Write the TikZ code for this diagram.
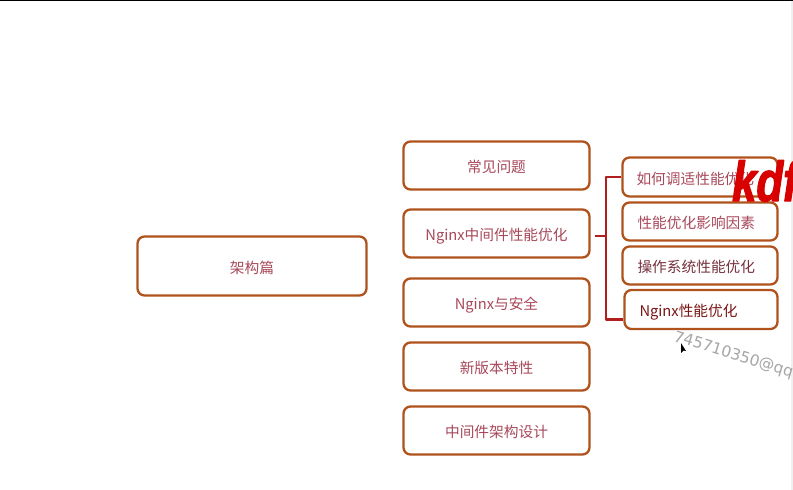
\documentclass[tikz,border=0pt]{standalone}
\usepackage{fontspec}
\setmainfont{Noto Sans CJK SC}
\newfontfamily\markfont[FakeBold=2.5]{Liberation Sans}
\newfontfamily\qqfont{DejaVu Sans}
\definecolor{boxline}{HTML}{B0521C}
\definecolor{linkred}{HTML}{B01E1E}
\definecolor{boxtext}{HTML}{A8485A}
\tikzset{
	mapbox/.style={draw=boxline, line width=2.3pt, rounded corners=7pt, fill=white, inner sep=0pt, text=boxtext, text height=14.2pt, text depth=0pt, font=\fontsize{14.7}{16}\selectfont},
	link/.style={draw=linkred, line width=2.3pt},
}
\begin{document}
\begin{tikzpicture}[x=1pt, y=-1pt, line join=round]
	\useasboundingbox (0,0) rectangle (793,490);
	\clip (0,0) rectangle (793,490);
	\fill[white] (0,0) rectangle (793,490);
	\fill[black] (0,0) rectangle (793,1.2);
	\fill[gray!12] (790.5,1.2) rectangle (793,490);
	% left box
	\node[mapbox, minimum width=229pt, minimum height=59pt] (arch) at (252,266) {架构篇};
	% middle column
	\foreach \name/\y/\txt in {faq/165.5/常见问题, nginxopt/233.5/Nginx中间件性能优化, safe/302.5/Nginx与安全, newver/366.5/新版本特性, design/430.5/中间件架构设计}
		\node[mapbox, minimum width=186pt, minimum height=48pt] (\name) at (496.5,\y) {\txt};
	% right column
	\node[mapbox, minimum width=155pt, minimum height=39pt, text width=127pt] (tune) at (700,177) {如何调适性能优化};
	\node[mapbox, minimum width=155pt, minimum height=38pt, text width=125pt] (factor) at (700,221.5) {性能优化影响因素};
	\node[mapbox, minimum width=155pt, minimum height=38pt, text width=125pt, text=boxtext!70!black] (osopt) at (700,265.5) {操作系统性能优化};
	\node[mapbox, minimum width=153pt, minimum height=39pt, text width=123pt, text=linkred!70!black] (ngxperf) at (701,309.5) {Nginx性能优化};
	% connectors
	\coordinate (trunk) at (606,236);
	\coordinate (low) at (ngxperf.west |- 0,319.5);
	\draw[link, shorten <=4pt] (nginxopt.east |- trunk) -- (trunk);
	\draw[link] (tune.west) -| (trunk) |- (low);
	% screen marks
	\node[inner sep=0pt, anchor=base west, xscale=.78, text=red!85!black, font=\markfont\bfseries\itshape\fontsize{56}{56}\selectfont] (mark) at (732,201) {kdf};
	\node[inner sep=0pt, anchor=west, rotate=-17, text=gray!70, font=\qqfont\fontsize{15.5}{16}\selectfont] (qq) at (674,337) {745710350@qq};
	\fill[black] (681,343) -- (681,353) -- (683.5,350.5) -- (686,351) -- cycle;
\end{tikzpicture}
\end{document}
